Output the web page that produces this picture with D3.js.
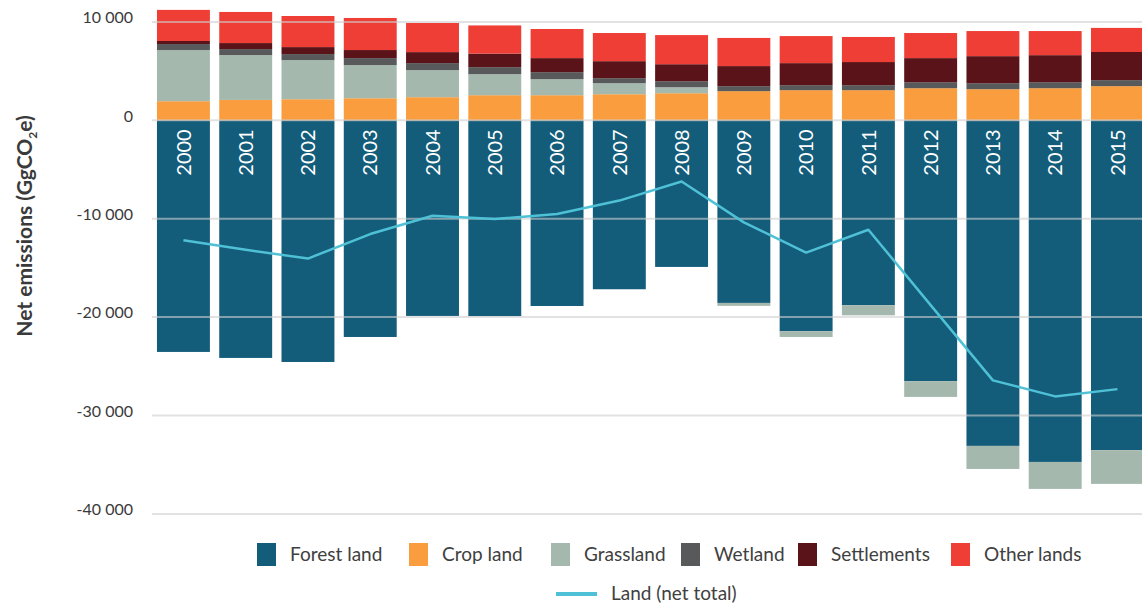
<!DOCTYPE html>
<html>
<head>
<meta charset="utf-8">
<script src="https://cdn.jsdelivr.net/npm/d3@7"></script>
<style>
  html, body { margin: 0; padding: 0; background: #fff; }
  svg { display: block; font-family: Lato, "Open Sans", sans-serif; }
</style>
</head>
<body>
<svg id="chart" width="1142" height="608"></svg>
<script>
// ---------- data ----------
const years = ["2000","2001","2002","2003","2004","2005","2006","2007","2008","2009","2010","2011","2012","2013","2014","2015"];
const forestLand  = [-23540,-24150,-24560,-22020,-19880,-19900,-18870,-17170,-14900,-18560,-21440,-18800,-26520,-33090,-34720,-33530];
const cropLand    = [1940,2070,2140,2240,2350,2550,2550,2650,2750,2960,3060,3060,3260,3160,3260,3470];
const grassland   = [5200,4560,3980,3370,2750,2140,1630,1120,610,-300,-580,-1020,-1590,-2340,-2740,-3420];
const wetland     = [610,610,610,710,710,710,710,510,610,510,510,510,610,610,610,610];
const settlements = [310,610,710,820,1120,1380,1430,1730,1730,2040,2240,2350,2450,2750,2750,2860];
const otherLands  = [3160,3160,3160,3260,2960,2860,2960,2860,2960,2860,2750,2550,2550,2550,2450,2450];
const landNetTotal = [-12200,-13160,-14050,-11560,-9700,-10030,-9520,-8160,-6220,-10370,-13440,-11120,-18780,-26430,-28060,-27320];
const yTicks = [10000,0,-10000,-20000,-30000,-40000];

const seriesNames = ["Forest land","Crop land","Grassland","Wetland","Settlements","Other lands"];
const seriesValues = [forestLand, cropLand, grassland, wetland, settlements, otherLands];
const seriesColors = ["#135c7a","#f99d3e","#a5b8ad","#58595b","#5a1318","#ef3e36"];
const lineName = "Land (net total)";
const lineColor = "#4fc1d6";

// ---------- layout ----------
const svg = d3.select("#chart");
const plotLeft = 152, plotRight = 1142;

const x = d3.scaleBand()
  .domain(years)
  .range([152.3, 1148.6])
  .paddingInner(0.15)
  .paddingOuter(0.075);

const y = d3.scaleLinear()
  .domain([-40000, 10000])
  .range([513.9, 21.9]);

const fmt = d3.formatLocale({decimal: ".", thousands: " ", grouping: [3], currency: ["", ""], minus: "-"}).format(",d");

// ---------- stacking (positive / negative separately) ----------
const rows = years.map((yr, i) => {
  const o = {year: yr};
  seriesNames.forEach((n, k) => o[n] = seriesValues[k][i]);
  return o;
});
const stacked = d3.stack()
  .keys(seriesNames)
  .offset(d3.stackOffsetDiverging)(rows);

// ---------- bars ----------
const gBars = svg.append("g");
stacked.forEach((layer, k) => {
  gBars.append("g")
    .attr("fill", seriesColors[k])
    .selectAll("rect")
    .data(layer)
    .join("rect")
      .attr("x", d => x(d.data.year))
      .attr("width", x.bandwidth())
      .attr("y", d => y(Math.max(d[0], d[1])))
      .attr("height", d => Math.abs(y(d[0]) - y(d[1])));
});

// ---------- gridlines (over bars) ----------
const gGrid = svg.append("g");
gGrid.selectAll("line")
  .data(yTicks)
  .join("line")
    .attr("x1", plotLeft).attr("x2", plotRight)
    .attr("y1", d => y(d)).attr("y2", d => y(d))
    .attr("stroke", "#cfcfcf")
    .attr("stroke-opacity", 0.6)
    .attr("stroke-width", 2);

// ---------- y axis ----------
const yAxis = d3.axisLeft(y).tickValues(yTicks).tickFormat(fmt).tickSize(0).tickPadding(0);
const gy = svg.append("g").attr("transform", "translate(133,0)").call(yAxis);
gy.select(".domain").remove();
gy.selectAll("text")
  .attr("font-family", "Lato, sans-serif")
  .attr("font-size", 16)
  .attr("fill", "#3a3a3a")
  .attr("dy", "0.05em");

// y axis title
const title = svg.append("text")
  .attr("transform", "translate(32,226) rotate(-90)")
  .attr("text-anchor", "middle")
  .attr("font-size", 21)
  .attr("font-weight", 700)
  .attr("fill", "#3a3a3a");
title.append("tspan").text("Net emissions (GgCO");
title.append("tspan").attr("font-size", 12).attr("dy", 5).text("2");
title.append("tspan").attr("dy", -5).text("e)");

// ---------- year labels inside forest bars ----------
svg.append("g").selectAll("text")
  .data(years)
  .join("text")
    .attr("transform", d => `translate(${x(d) + x.bandwidth() / 2},${y(0) + 9}) rotate(-90)`)
    .attr("text-anchor", "end")
    .attr("dy", "0.36em")
    .attr("font-size", 20)
    .attr("fill", "#ffffff")
    .text(d => d);

// ---------- line ----------
const line = d3.line()
  .x((d, i) => x(years[i]) + x.bandwidth() / 2)
  .y(d => y(d));
svg.append("path")
  .datum(landNetTotal)
  .attr("fill", "none")
  .attr("stroke", lineColor)
  .attr("stroke-width", 2.5)
  .attr("stroke-linejoin", "round")
  .attr("d", line);

// ---------- legend ----------
const legendX = [257, 409, 551, 681, 798, 951];
const gLeg = svg.append("g");
seriesNames.forEach((n, k) => {
  gLeg.append("rect")
    .attr("x", legendX[k]).attr("y", 543)
    .attr("width", 19).attr("height", 23)
    .attr("fill", seriesColors[k]);
  gLeg.append("text")
    .attr("x", legendX[k] + 33).attr("y", 561)
    .attr("font-size", 19)
    .attr("fill", "#404040")
    .text(n);
});
gLeg.append("line")
  .attr("x1", 556).attr("x2", 597)
  .attr("y1", 594).attr("y2", 594)
  .attr("stroke", lineColor)
  .attr("stroke-width", 4);
gLeg.append("text")
  .attr("x", 611).attr("y", 600)
  .attr("font-size", 19)
  .attr("fill", "#404040")
  .text(lineName);
</script>
</body>
</html>
